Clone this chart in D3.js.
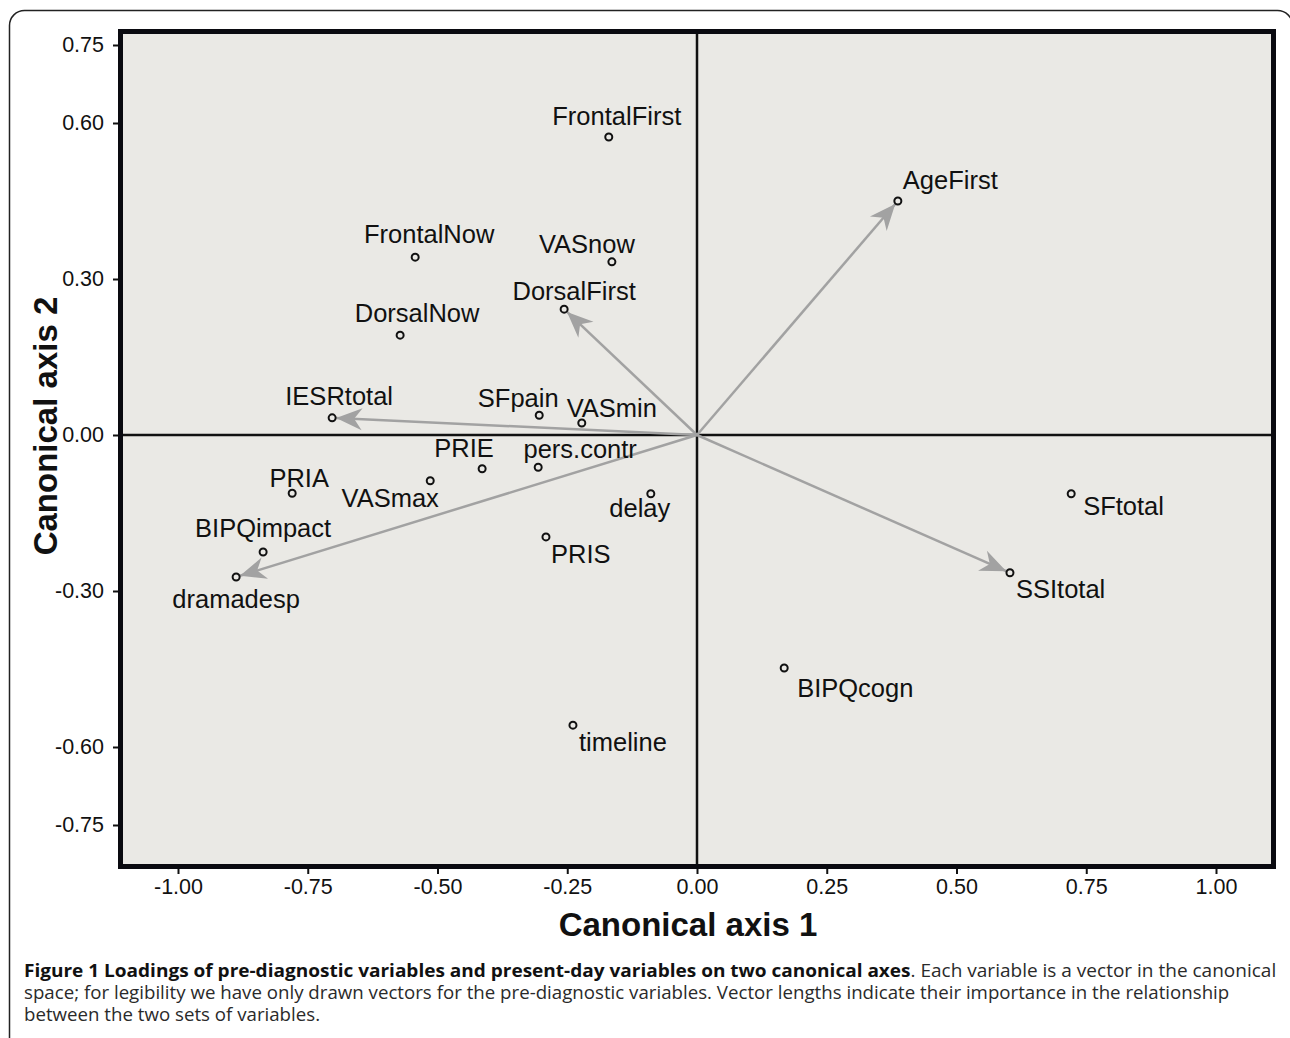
<!DOCTYPE html>
<html>
<head>
<meta charset="utf-8">
<script src="https://cdn.jsdelivr.net/npm/d3@7"></script>
<style>
  html, body { margin: 0; padding: 0; background: #fff; }
  svg { display: block; }
  .tick text { font-family: "Liberation Sans", Arial, sans-serif; font-size: 21.5px; fill: #111; }
  .tick line { stroke: #111; stroke-width: 2; }
  .var-label { font-family: "Liberation Sans", Arial, sans-serif; font-size: 25.5px; fill: #111; }
  .axis-title { font-family: "Liberation Sans", Arial, sans-serif; font-size: 33px; font-weight: bold; fill: #111; }
  .caption { font-family: "Open Sans", sans-serif; font-size: 17.5px; fill: #2a2a2a; }
</style>
</head>
<body>
<svg id="chart" width="1290" height="1038"></svg>
<script>
// Canonical loadings
const variables = ["FrontalFirst", "AgeFirst", "FrontalNow", "VASnow", "DorsalFirst", "DorsalNow",
    "IESRtotal", "SFpain", "VASmin", "PRIE", "pers.contr", "VASmax", "PRIA", "delay",
    "BIPQimpact", "PRIS", "dramadesp", "SFtotal", "SSItotal", "BIPQcogn", "timeline"];
const axis1 = [-0.170, 0.387, -0.543, -0.164, -0.256, -0.572,
    -0.703, -0.304, -0.222, -0.414, -0.306, -0.514, -0.780, -0.089,
    -0.836, -0.291, -0.888, 0.721, 0.603, 0.168, -0.239];
const axis2 = [0.573, 0.450, 0.342, 0.333, 0.242, 0.192,
    0.033, 0.038, 0.023, -0.065, -0.062, -0.088, -0.112, -0.113,
    -0.225, -0.196, -0.273, -0.113, -0.265, -0.448, -0.558];

// pre-diagnostic variables get a vector from the origin
const vectorVars = ["AgeFirst", "DorsalFirst", "IESRtotal", "dramadesp", "SSItotal"];

const xTicks = [-1.00, -0.75, -0.50, -0.25, 0.00, 0.25, 0.50, 0.75, 1.00];
const yTicks = [0.75, 0.60, 0.30, 0.00, -0.30, -0.60, -0.75];

const captionBold = "Figure 1 Loadings of pre-diagnostic variables and present-day variables on two canonical axes";
const captionLines = [
    ". Each variable is a vector in the canonical",
    "space; for legibility we have only drawn vectors for the pre-diagnostic variables. Vector lengths indicate their importance in the relationship",
    "between the two sets of variables."
];

// label placement: [anchor, dx, dy] relative to the point
const labelPlace = {
    "FrontalFirst": ["middle", 8, -12], "AgeFirst": ["start", 5, -12],
    "FrontalNow": ["middle", 14, -14], "VASnow": ["middle", -25, -9],
    "DorsalFirst": ["middle", 10, -9], "DorsalNow": ["middle", 17, -13],
    "IESRtotal": ["middle", 7, -13], "SFpain": ["middle", -21, -8],
    "VASmin": ["middle", 30, -6], "PRIE": ["middle", -18, -12],
    "pers.contr": ["middle", 42, -9], "VASmax": ["middle", -40, 26],
    "PRIA": ["middle", 7, -6], "delay": ["middle", -11, 23],
    "BIPQimpact": ["middle", 0, -15], "PRIS": ["start", 5, 26],
    "dramadesp": ["middle", 0, 31], "SFtotal": ["start", 12, 21],
    "SSItotal": ["start", 6, 25], "BIPQcogn": ["start", 13, 29],
    "timeline": ["start", 6, 26]
};

const points = variables.map((name, i) => ({ name, a1: axis1[i], a2: axis2[i] }));

const svg = d3.select("#chart");

// outer figure box (rounded, runs off the bottom)
svg.append("rect")
    .attr("x", 9.5).attr("y", 10.5)
    .attr("width", 1283).attr("height", 1100)
    .attr("rx", 15)
    .attr("fill", "none")
    .attr("stroke", "#222")
    .attr("stroke-width", 1.5);

const box = { left: 118, right: 1276, top: 29, bottom: 869 };

const x = d3.scaleLinear().domain([-1, 1]).range([178, 1216]);
const y = d3.scaleLinear().domain([-0.75, 0.75]).range([825, 45]);

const fmt = d3.formatLocale({ decimal: ".", thousands: ",", grouping: [3], currency: ["", ""], minus: "-" }).format(".2f");

// plot background
svg.append("rect")
    .attr("x", box.left).attr("y", box.top)
    .attr("width", box.right - box.left).attr("height", box.bottom - box.top)
    .attr("fill", "#eae9e5");

// zero lines
svg.append("line")
    .attr("x1", box.left).attr("x2", box.right)
    .attr("y1", y(0)).attr("y2", y(0))
    .attr("stroke", "#111").attr("stroke-width", 2.5);
svg.append("line")
    .attr("x1", x(0)).attr("x2", x(0))
    .attr("y1", box.top).attr("y2", box.bottom)
    .attr("stroke", "#111").attr("stroke-width", 2.5);

// arrowhead marker
svg.append("defs").append("marker")
    .attr("id", "arrowhead")
    .attr("viewBox", "-28 -13 30 26")
    .attr("refX", 0).attr("refY", 0)
    .attr("markerUnits", "userSpaceOnUse")
    .attr("markerWidth", 30).attr("markerHeight", 26)
    .attr("orient", "auto")
    .append("path")
    .attr("d", "M0,0 L-26,-11 L-18,0 L-26,11 Z")
    .attr("fill", "#a2a2a2");

// vectors
const vecData = points.filter(p => vectorVars.includes(p.name));
svg.append("g").selectAll("line")
    .data(vecData)
    .enter()
    .append("line")
    .each(function(d) {
        const x0 = x(0), y0 = y(0);
        const x1 = x(d.a1), y1 = y(d.a2);
        const len = Math.hypot(x1 - x0, y1 - y0);
        const k = (len - 4) / len;
        d3.select(this)
            .attr("x1", x0).attr("y1", y0)
            .attr("x2", x0 + (x1 - x0) * k)
            .attr("y2", y0 + (y1 - y0) * k);
    })
    .attr("stroke", "#a2a2a2")
    .attr("stroke-width", 2.5)
    .attr("marker-end", "url(#arrowhead)");

// points
svg.append("g").selectAll("circle")
    .data(points)
    .enter()
    .append("circle")
    .attr("cx", d => x(d.a1))
    .attr("cy", d => y(d.a2))
    .attr("r", 3.5)
    .attr("fill", "none")
    .attr("stroke", "#111")
    .attr("stroke-width", 2);

// labels
svg.append("g").selectAll("text")
    .data(points)
    .enter()
    .append("text")
    .attr("class", "var-label")
    .attr("text-anchor", d => labelPlace[d.name][0])
    .attr("x", d => x(d.a1) + labelPlace[d.name][1])
    .attr("y", d => y(d.a2) + labelPlace[d.name][2])
    .text(d => d.name);

// thick frame
svg.append("rect")
    .attr("x", box.left + 2.5).attr("y", box.top + 2.5)
    .attr("width", box.right - box.left - 5).attr("height", box.bottom - box.top - 5)
    .attr("fill", "none")
    .attr("stroke", "#0a0a10")
    .attr("stroke-width", 5);

// axes
const yAxis = svg.append("g")
    .attr("transform", `translate(${box.left},0)`)
    .call(d3.axisLeft(y).tickValues(yTicks).tickFormat(fmt).tickSize(5).tickPadding(9));
yAxis.select(".domain").remove();

const xAxis = svg.append("g")
    .attr("transform", `translate(0,${box.bottom})`)
    .call(d3.axisBottom(x).tickValues(xTicks).tickFormat(fmt).tickSize(5).tickPadding(5));
xAxis.select(".domain").remove();

// axis titles
svg.append("text")
    .attr("class", "axis-title")
    .attr("text-anchor", "middle")
    .attr("x", 688).attr("y", 936)
    .text("Canonical axis 1");

svg.append("text")
    .attr("class", "axis-title")
    .attr("text-anchor", "middle")
    .attr("transform", "translate(57,426) rotate(-90)")
    .text("Canonical axis 2");

// caption, squeezed horizontally to the printed widths
const capLeft = 24;
const capBase = [977, 999, 1021];
const capRight = [1277, 1230];
let lastScale = 1;
captionLines.forEach((line, i) => {
    const t = svg.append("text").attr("class", "caption");
    if (i === 0) {
        t.append("tspan").attr("font-weight", 700).attr("fill", "#111").text(captionBold);
    }
    t.append("tspan").text(line);
    const w = t.node().getComputedTextLength();
    const s = i < capRight.length ? (capRight[i] - capLeft) / w : lastScale;
    lastScale = s;
    t.attr("transform", `translate(${capLeft},${capBase[i]}) scale(${s},1)`);
});
</script>
</body>
</html>
